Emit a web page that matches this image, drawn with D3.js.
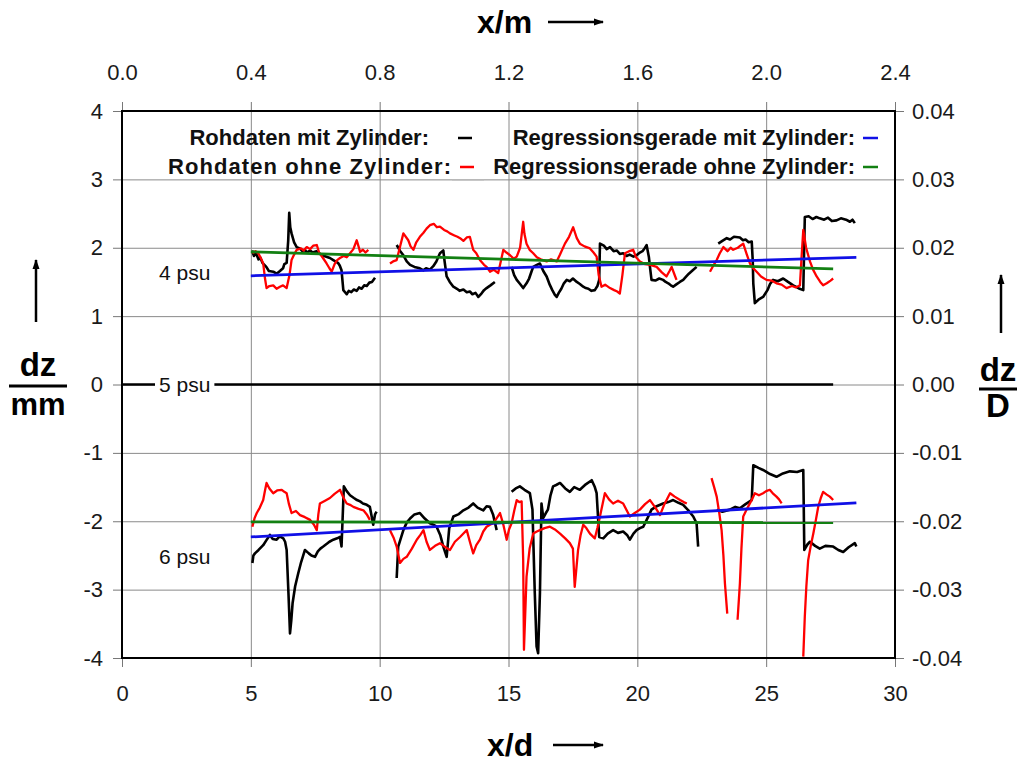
<!DOCTYPE html>
<html>
<head>
<meta charset="utf-8">
<script src="https://cdn.jsdelivr.net/npm/d3@7"></script>
<style>
  body { margin: 0; background: #fff; }
  text { font-family: "Liberation Sans", Arial, sans-serif; }
</style>
</head>
<body>
<svg id="chart" width="1020" height="762"></svg>
<script>
// ticks of the four axes
var xdTicks = [0, 5, 10, 15, 20, 25, 30];
var xmTicks = [0, 0.4, 0.8, 1.2, 1.6, 2.0, 2.4];
var dzTicks = [-4, -3, -2, -1, 0, 1, 2, 3, 4];
var dzDTicks = [-0.04, -0.03, -0.02, -0.01, 0, 0.01, 0.02, 0.03, 0.04];

var legendText = ["Rohdaten mit Zylinder:", "Rohdaten ohne Zylinder:",
                  "Regressionsgerade mit Zylinder:", "Regressionsgerade ohne Zylinder:"];
var psuText = ["4 psu", "5 psu", "6 psu"];

// raw data, [x/d, dz/mm], null = gap between runs
var mit4 = [[5.05,1.96],[5.12,1.88],[5.2,1.92],[5.3,1.83],[5.36,1.86],[5.45,1.78],[5.6,1.72],[5.7,1.66],[5.87,1.65],[6.0,1.62],[6.13,1.66],[6.25,1.7],[6.3,1.76],[6.39,1.78],[6.45,2.1],[6.49,2.51],[6.53,2.3],[6.58,2.21],[6.68,2.08],[6.78,2.01],[6.9,1.99],[7.0,1.95],[7.1,1.97],[7.17,1.93],[7.3,1.96],[7.4,1.93],[7.55,1.95],[7.68,1.91],[7.85,1.88],[8.07,1.85],[8.2,1.82],[8.38,1.78],[8.45,1.74],[8.52,1.67],[8.59,1.38],[8.72,1.32],[8.8,1.37],[8.9,1.35],[9.0,1.39],[9.11,1.37],[9.2,1.42],[9.3,1.4],[9.4,1.45],[9.5,1.44],[9.6,1.49],[9.7,1.5],[9.82,1.56], null,
  [10.66,2.04],[10.8,1.95],[10.92,1.89],[11.05,1.8],[11.18,1.75],[11.35,1.72],[11.56,1.70],[11.7,1.67],[11.8,1.7],[11.95,1.68],[12.08,1.73],[12.2,1.8],[12.34,1.92],[12.47,1.96],[12.52,1.8],[12.6,1.58],[12.72,1.5],[12.86,1.43],[13.0,1.4],[13.1,1.37],[13.25,1.39],[13.38,1.35],[13.5,1.36],[13.6,1.32],[13.72,1.34],[13.83,1.28],[13.95,1.33],[14.05,1.38],[14.15,1.41],[14.3,1.45],[14.47,1.50], null,
  [15.12,1.72],[15.22,1.6],[15.32,1.53],[15.45,1.47],[15.57,1.41],[15.7,1.48],[15.8,1.55],[15.9,1.66],[15.96,1.72],[16.1,1.75],[16.22,1.77],[16.35,1.66],[16.48,1.58],[16.6,1.46],[16.7,1.38],[16.8,1.31],[16.87,1.28],[16.95,1.34],[17.05,1.4],[17.15,1.48],[17.26,1.53],[17.38,1.51],[17.5,1.55],[17.65,1.5],[17.77,1.47],[17.9,1.43],[18.0,1.41],[18.1,1.4],[18.22,1.37],[18.35,1.38],[18.45,1.44],[18.52,1.53],[18.55,2.06],[18.7,2.03],[18.81,1.98],[18.94,2.01],[19.08,1.95],[19.2,1.96],[19.32,1.91],[19.45,1.92],[19.58,1.88],[19.7,1.9],[19.85,1.87],[19.97,1.89],[20.1,1.93],[20.2,1.95],[20.3,2.0],[20.36,2.04],[20.45,1.86],[20.49,1.72],[20.55,1.53],[20.7,1.52],[20.85,1.55],[21.0,1.53],[21.1,1.5],[21.2,1.48],[21.3,1.45],[21.39,1.43],[21.5,1.46],[21.65,1.5],[21.78,1.53],[21.9,1.58],[22.0,1.62],[22.15,1.67],[22.3,1.72], null,
  [23.14,2.06],[23.3,2.1],[23.47,2.14],[23.6,2.12],[23.75,2.16],[23.98,2.15],[24.1,2.11],[24.2,2.12],[24.32,2.08],[24.44,2.09],[24.48,1.8],[24.5,1.48],[24.56,1.19],[24.7,1.24],[24.88,1.28],[25.05,1.38],[25.15,1.47],[25.27,1.53],[25.45,1.51],[25.66,1.55],[25.85,1.5],[26.05,1.45],[26.2,1.42],[26.3,1.4],[26.44,1.38],[26.5,2.45],[26.65,2.46],[26.8,2.42],[26.95,2.45],[27.08,2.43],[27.25,2.41],[27.4,2.44],[27.55,2.39],[27.73,2.40],[27.9,2.43],[28.1,2.41],[28.25,2.38],[28.35,2.41],[28.44,2.36]];

var ohne4 = [[5.06,1.92],[5.18,1.95],[5.29,1.92],[5.4,1.84],[5.48,1.77],[5.55,1.55],[5.61,1.41],[5.72,1.44],[5.87,1.45],[6.0,1.4],[6.13,1.43],[6.25,1.45],[6.39,1.41],[6.5,1.6],[6.58,1.82],[6.68,1.9],[6.78,1.97],[6.95,1.99],[7.05,1.96],[7.17,2.01],[7.3,1.98],[7.42,2.03],[7.56,2.04],[7.65,1.93],[7.8,1.85],[7.94,1.77],[8.05,1.7],[8.14,1.65],[8.25,1.76],[8.35,1.82],[8.46,1.85],[8.6,1.88],[8.72,1.86],[8.85,1.92],[8.98,1.98],[9.11,2.11],[9.18,2.02],[9.24,1.94],[9.35,1.97],[9.45,1.93],[9.56,1.97], null,
  [10.4,1.77],[10.52,1.8],[10.66,1.82],[10.78,2.0],[10.92,2.21],[11.11,2.11],[11.2,2.02],[11.31,1.97],[11.42,2.08],[11.56,2.16],[11.7,2.22],[11.82,2.28],[11.95,2.33],[12.1,2.35],[12.22,2.3],[12.34,2.31],[12.5,2.26],[12.62,2.24],[12.73,2.21],[12.9,2.18],[13.02,2.16],[13.12,2.14],[13.25,2.1],[13.38,2.15],[13.5,2.16],[13.63,1.97],[13.75,1.92],[13.89,1.82],[14.05,1.75],[14.15,1.72],[14.28,1.65],[14.42,1.68],[14.6,1.63],[14.7,1.8],[14.8,1.97],[14.92,1.93],[15.06,1.89],[15.2,1.84],[15.32,1.87],[15.45,2.0],[15.57,2.38],[15.62,2.2],[15.7,2.06],[15.82,1.97],[15.96,1.92],[16.1,1.86],[16.25,1.83],[16.48,1.80],[16.65,1.83],[16.87,1.80],[17.0,1.9],[17.19,2.06],[17.35,2.16],[17.51,2.3],[17.65,2.14],[17.77,2.06],[17.95,2.02],[18.16,1.99],[18.3,1.93],[18.42,1.87],[18.5,1.6],[18.61,1.43],[18.75,1.46],[18.94,1.41],[19.1,1.38],[19.22,1.36],[19.32,1.33],[19.42,1.6],[19.52,1.92],[19.68,1.95],[19.84,1.97],[19.95,1.86],[20.1,1.80],[20.3,1.76],[20.5,1.75],[20.75,1.72],[20.95,1.64],[21.13,1.58],[21.25,1.66],[21.33,1.72],[21.43,1.62],[21.52,1.53], null,
  [22.82,1.65],[22.95,1.74],[23.08,1.82],[23.2,1.92],[23.34,2.01],[23.5,1.95],[23.62,2.0],[23.72,1.97],[23.9,2.0],[24.0,2.03],[24.11,2.06],[24.25,1.9],[24.37,1.77],[24.5,1.7],[24.63,1.65],[24.8,1.58],[25.01,1.53],[25.2,1.52],[25.4,1.48],[25.6,1.46],[25.79,1.41],[26.0,1.44],[26.15,1.42],[26.31,1.45],[26.38,1.9],[26.44,2.26],[26.55,2.0],[26.7,1.80],[26.82,1.68],[26.96,1.58],[27.1,1.5],[27.21,1.45],[27.35,1.48],[27.5,1.52],[27.6,1.55]];

var mit5 = [[0, 0], [27.6, 0]];

var mit6 = [[5.06,-2.61],[5.1,-2.5],[5.16,-2.47],[5.3,-2.42],[5.48,-2.35],[5.6,-2.28],[5.74,-2.20],[5.85,-2.26],[6.0,-2.27],[6.12,-2.22],[6.26,-2.25],[6.33,-2.3],[6.39,-2.42],[6.46,-3.05],[6.52,-3.64],[6.57,-3.45],[6.62,-3.20],[6.72,-2.95],[6.84,-2.76],[6.95,-2.6],[7.1,-2.42],[7.25,-2.47],[7.35,-2.5],[7.49,-2.52],[7.6,-2.44],[7.7,-2.4],[7.81,-2.37],[7.95,-2.33],[8.05,-2.3],[8.2,-2.27],[8.35,-2.25],[8.46,-2.23],[8.52,-2.37],[8.61,-1.49],[8.72,-1.56],[8.85,-1.62],[9.0,-1.66],[9.12,-1.69],[9.24,-1.71],[9.35,-1.74],[9.5,-1.76],[9.62,-1.79],[9.75,-2.05],[9.82,-1.9],[9.88,-1.86], null,
  [10.66,-2.83],[10.72,-2.37],[10.82,-2.25],[10.92,-2.13],[11.05,-2.02],[11.18,-1.96],[11.35,-1.9],[11.56,-1.88],[11.75,-1.96],[11.95,-2.03],[12.08,-2.05],[12.21,-2.08],[12.35,-2.2],[12.47,-2.37],[12.6,-2.52],[12.7,-2.1],[12.86,-1.93],[13.05,-1.9],[13.25,-1.84],[13.45,-1.8],[13.63,-1.74],[13.8,-1.8],[14.02,-1.84],[14.15,-1.78],[14.28,-1.79],[14.4,-1.9],[14.54,-2.13], null,
  [15.12,-1.57],[15.28,-1.52],[15.44,-1.49],[15.62,-1.54],[15.83,-1.59],[15.93,-1.83],[16.02,-3.05],[16.09,-3.83],[16.15,-3.93],[16.22,-3.05],[16.28,-1.74],[16.35,-1.95],[16.45,-1.88],[16.53,-1.83],[16.63,-1.62],[16.73,-1.49],[16.85,-1.47],[17.0,-1.44],[17.2,-1.52],[17.38,-1.57],[17.55,-1.5],[17.77,-1.54],[18.0,-1.46],[18.23,-1.40],[18.35,-1.5],[18.42,-1.59],[18.52,-2.23],[18.68,-2.25],[18.85,-2.18],[19.06,-2.13],[19.25,-2.17],[19.45,-2.15],[19.6,-2.2],[19.71,-2.27],[19.85,-2.18],[19.97,-2.13],[20.1,-2.1],[20.23,-2.08],[20.4,-1.95],[20.55,-1.83],[20.75,-1.78],[21.0,-1.74],[21.2,-1.72],[21.39,-1.69],[21.6,-1.73],[21.78,-1.76],[22.0,-1.85],[22.17,-1.93],[22.3,-2.03],[22.36,-2.37], null,
  [23.08,-1.83],[23.3,-1.86],[23.59,-1.83],[23.8,-1.79],[23.98,-1.81],[24.2,-1.75],[24.44,-1.69],[24.5,-1.18],[24.7,-1.22],[24.88,-1.25],[25.15,-1.31],[25.4,-1.35],[25.65,-1.3],[25.92,-1.27],[26.2,-1.28],[26.44,-1.25],[26.48,-2.42],[26.6,-2.34],[26.7,-2.30],[26.9,-2.36],[27.08,-2.40],[27.3,-2.36],[27.6,-2.37],[27.8,-2.42],[27.99,-2.45],[28.2,-2.38],[28.44,-2.32],[28.5,-2.37]];

var ohne6 = [[5.06,-2.08],[5.15,-1.95],[5.23,-1.88],[5.35,-1.8],[5.48,-1.69],[5.55,-1.55],[5.61,-1.44],[5.72,-1.52],[5.87,-1.59],[6.02,-1.55],[6.2,-1.54],[6.3,-1.57],[6.39,-1.59],[6.48,-1.75],[6.58,-1.88],[6.75,-1.85],[6.91,-1.91],[7.1,-1.94],[7.3,-1.98],[7.45,-2.05],[7.56,-2.13],[7.62,-1.9],[7.68,-1.74],[7.88,-1.7],[8.07,-1.66],[8.25,-1.6],[8.46,-1.54],[8.6,-1.66],[8.72,-1.74],[8.85,-1.76],[8.98,-1.79],[9.18,-1.82],[9.37,-1.84],[9.5,-1.9],[9.62,-1.98], null,
  [10.4,-2.13],[10.55,-2.25],[10.66,-2.37],[10.79,-2.61],[10.92,-2.55],[11.05,-2.52],[11.25,-2.4],[11.44,-2.27],[11.58,-2.2],[11.7,-2.13],[11.82,-2.3],[11.95,-2.42],[12.15,-2.36],[12.34,-2.32],[12.55,-2.38],[12.73,-2.42],[12.92,-2.3],[13.12,-2.23],[13.25,-2.18],[13.38,-2.13],[13.5,-2.3],[13.63,-2.47],[13.75,-2.35],[13.89,-2.27],[14.02,-2.15],[14.15,-2.08],[14.28,-2.05],[14.41,-2.03],[14.55,-1.95],[14.67,-1.88],[14.8,-2.05],[14.93,-2.27],[15.02,-2.12],[15.12,-2.03],[15.22,-1.85],[15.32,-1.69],[15.42,-1.72],[15.51,-1.71],[15.57,-2.57],[15.6,-3.88],[15.7,-2.81],[15.82,-2.4],[15.96,-2.18],[16.1,-2.15],[16.22,-2.13],[16.4,-2.1],[16.61,-2.08],[16.8,-2.12],[17.0,-2.18],[17.2,-2.25],[17.38,-2.32],[17.5,-2.4],[17.57,-2.96],[17.7,-2.42],[17.8,-2.2],[17.9,-2.05],[18.02,-2.1],[18.16,-2.18],[18.35,-2.25],[18.45,-2.1],[18.55,-1.93],[18.65,-1.75],[18.74,-1.59],[18.9,-1.68],[19.06,-1.74],[19.25,-1.7],[19.45,-1.74],[19.6,-1.85],[19.71,-1.93],[19.9,-1.88],[20.1,-1.83],[20.3,-1.75],[20.49,-1.69],[20.7,-1.8],[20.88,-1.91],[21.05,-1.75],[21.27,-1.59],[21.45,-1.64],[21.66,-1.69],[21.8,-1.72],[21.92,-1.74], null,
  [22.88,-1.37],[22.98,-1.5],[23.08,-1.64],[23.18,-1.88],[23.27,-2.13],[23.34,-2.5],[23.4,-2.91],[23.49,-3.35], null,
  [23.89,-3.44],[23.94,-3.15],[23.98,-2.91],[24.04,-2.4],[24.11,-1.93],[24.28,-1.8],[24.44,-1.69],[24.56,-1.59],[24.72,-1.62],[24.88,-1.59],[25.0,-1.56],[25.14,-1.54],[25.28,-1.6],[25.4,-1.64],[25.5,-1.68],[25.6,-1.74], null,
  [26.44,-3.98],[26.5,-3.39],[26.56,-2.95],[26.63,-2.57],[26.73,-2.36],[26.83,-2.18],[26.93,-1.98],[27.02,-1.79],[27.12,-1.66],[27.21,-1.57],[27.35,-1.61],[27.47,-1.64],[27.6,-1.69]];

// regression lines
var regMit4 = [[5, 1.59], [28.5, 1.86]];
var regOhne4 = [[5, 1.94], [27.6, 1.69]];
var regMit6 = [[5, -2.23], [28.5, -1.73]];
var regOhne6 = [[5, -2.01], [27.6, -2.02]];

var margin = {top: 111, right: 125, bottom: 104, left: 122},
  width = 1020 - margin.left - margin.right,
  height = 762 - margin.top - margin.bottom;

var svg = d3.select("#chart"),
  g = svg.append("g").attr("transform", "translate(" + margin.left + "," + margin.top + ")");

var x = d3.scaleLinear().domain([0, 30]).range([0, width]);
var xm = d3.scaleLinear().domain([0, 2.4]).range([0, width]);
var y = d3.scaleLinear().domain([-4, 4]).range([height, 0]);
var yD = d3.scaleLinear().domain([-0.04, 0.04]).range([height, 0]);

// grid
g.append("g").attr("class", "grid")
  .call(d3.axisBottom(x).tickValues(xdTicks.slice(1, -1)).tickSize(height).tickFormat(""));
g.append("g").attr("class", "grid")
  .call(d3.axisLeft(y).tickValues(dzTicks.slice(1, -1)).tickSize(-width).tickFormat(""));
g.selectAll(".grid .domain").remove();
g.selectAll(".grid line").attr("stroke", "#8a8a8a").attr("stroke-width", 1);

// axes
function styleAxis(sel) {
  sel.select(".domain").remove();
  sel.selectAll("line").attr("stroke", "#777").attr("stroke-width", 1);
  sel.selectAll("text").attr("fill", "#1a1a1a").style("font-size", "22px");
}
var axBottom = g.append("g").attr("transform", "translate(0," + height + ")")
  .call(d3.axisBottom(x).tickValues(xdTicks).tickSize(9).tickFormat(function(d) { return String(d); }));
styleAxis(axBottom);
axBottom.selectAll("text").attr("y", 35).attr("dy", "0.35em");

var axTop = g.append("g")
  .call(d3.axisTop(xm).tickValues(xmTicks).tickSize(9).tickFormat(function(d) { return d.toFixed(1); }));
styleAxis(axTop);
axTop.selectAll("text").attr("y", -39).attr("dy", "0.35em");

var axLeft = g.append("g")
  .call(d3.axisLeft(y).tickValues(dzTicks).tickSize(9).tickPadding(10).tickFormat(function(d) { return String(d); }));
styleAxis(axLeft);

var axRight = g.append("g").attr("transform", "translate(" + width + ",0)")
  .call(d3.axisRight(yD).tickValues(dzDTicks).tickSize(9).tickPadding(8).tickFormat(function(d) { return d.toFixed(2); }));
styleAxis(axRight);

// frame
g.append("rect").attr("width", width).attr("height", height)
  .attr("fill", "none").attr("stroke", "#000").attr("stroke-width", 2);

// series
var line = d3.line().defined(function(d) { return d; })
  .x(function(d) { return x(d[0]); })
  .y(function(d) { return y(d[1]); });

function draw(data, color, w) {
  g.append("path").datum(data)
    .attr("fill", "none").attr("stroke", color).attr("stroke-width", w)
    .attr("stroke-linejoin", "round")
    .attr("d", line);
}
draw(mit5, "#000", 2.5);
draw(mit4, "#000", 2.6);
draw(mit6, "#000", 2.6);
draw(ohne4, "#f00", 2.3);
draw(ohne6, "#f00", 2.3);
draw(regMit4, "#1010e6", 2.8);
draw(regMit6, "#1010e6", 2.8);
draw(regOhne4, "#138013", 2.8);
draw(regOhne6, "#138013", 2.8);

// psu labels
var psuY = [1.64, 0, -2.52];
psuText.forEach(function(t, i) {
  var lab = g.append("text").attr("x", 37).attr("y", y(psuY[i])).attr("dy", "0.35em")
    .style("font-size", "21px").attr("fill", "#111").text(t);
  if (i === 1) {
    var bb = lab.node().getBBox();
    g.append("rect").attr("x", bb.x - 4).attr("y", bb.y)
      .attr("width", bb.width + 8).attr("height", bb.height).attr("fill", "#fff");
    lab.raise();
  }
});

// legend
var legX = [429, 451, 855, 855], legY = [145, 174, 145, 174];
var legLen = [null, 283, null, null];
var legCol = ["#000", "#f00", "#1010e6", "#138013"];
var legDash = [[458, 472], [460, 474], [863, 878], [863, 878]];
legendText.forEach(function(t, i) {
  var tx = svg.append("text").attr("x", legX[i]).attr("y", legY[i]).attr("text-anchor", "end")
    .style("font-size", "22px").style("font-weight", "bold").attr("fill", "#111").text(t);
  if (legLen[i]) tx.attr("textLength", legLen[i]).attr("lengthAdjust", "spacing");
  svg.append("line").attr("x1", legDash[i][0]).attr("x2", legDash[i][1])
    .attr("y1", legY[i] - 7).attr("y2", legY[i] - 7)
    .attr("stroke", legCol[i]).attr("stroke-width", 2.5);
});
svg.append("line").attr("x1", 452).attr("x2", 484).attr("y1", 180).attr("y2", 180)
  .attr("stroke", "#bbb").attr("stroke-width", 1);

// axis titles
svg.append("defs").append("marker").attr("id", "arr")
  .attr("viewBox", "0 0 10 10").attr("refX", 9).attr("refY", 5)
  .attr("markerWidth", 12).attr("markerHeight", 10).attr("orient", "auto")
  .attr("markerUnits", "userSpaceOnUse")
  .append("path").attr("d", "M0,1.5 L10,5 L0,8.5 z").attr("fill", "#000");

function arrow(x1, y1, x2, y2) {
  svg.append("line").attr("x1", x1).attr("y1", y1).attr("x2", x2).attr("y2", y2)
    .attr("stroke", "#000").attr("stroke-width", 2.5).attr("marker-end", "url(#arr)");
}
function title(t, tx, ty, anchor, size) {
  svg.append("text").attr("x", tx).attr("y", ty).attr("text-anchor", anchor || "start")
    .style("font-size", (size || 32) + "px").style("font-weight", "bold").attr("fill", "#000").text(t);
}
title("x/m", 477, 33); arrow(548, 22, 603, 22);
title("x/d", 487, 756); arrow(553, 745, 603, 745);

title("dz", 38, 376, "middle", 33);
svg.append("line").attr("x1", 9).attr("x2", 67).attr("y1", 386).attr("y2", 386).attr("stroke", "#000").attr("stroke-width", 3);
title("mm", 38, 415, "middle", 31);
arrow(36, 322, 36, 260);

title("dz", 998, 381, "middle", 33);
svg.append("line").attr("x1", 979).attr("x2", 1017).attr("y1", 389).attr("y2", 389).attr("stroke", "#000").attr("stroke-width", 3);
title("D", 998, 417, "middle", 33);
arrow(1001, 333, 1001, 275);
</script>
</body>
</html>
